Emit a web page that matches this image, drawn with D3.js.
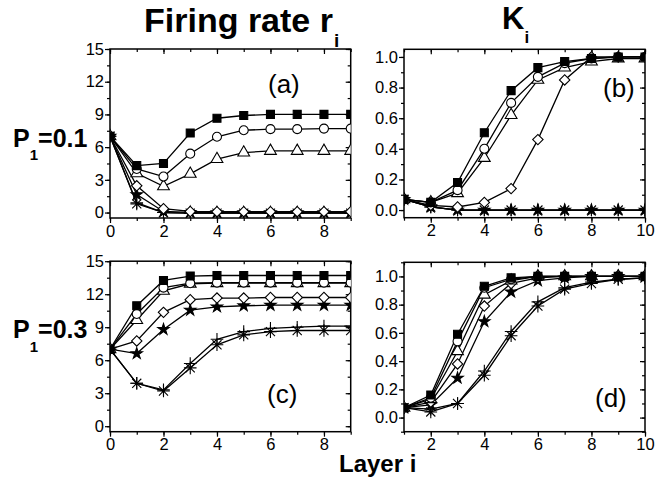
<!DOCTYPE html>
<html>
<head>
<meta charset="utf-8">
<script src="https://cdn.jsdelivr.net/npm/d3@7"></script>
<style>
  html, body { margin: 0; padding: 0; background: #fff; }
  svg { display: block; font-family: "Liberation Sans", Arial, sans-serif; }
</style>
</head>
<body>
<svg id="chart" width="669" height="479"></svg>
<script>
// ---- data ------------------------------------------------------------
// Seven curves per panel, identified by marker shape.
const seriesMarkers = ["square", "circle", "triangle", "diamond", "star", "plus", "asterisk"];

// Firing rate, layers 0..9
const layersRate = [0, 1, 2, 3, 4, 5, 6, 7, 8, 9];
// Consistency K, layers 1..10
const layersK = [1, 2, 3, 4, 5, 6, 7, 8, 9, 10];

// (a) firing rate, P1 = 0.1
const rateP01 = [
  [7, 4.3, 4.5, 7.3, 8.65, 8.9, 9.0, 9.0, 9.0, 9.0],
  [7, 4.0, 3.3, 5.4, 6.95, 7.55, 7.65, 7.65, 7.7, 7.7],
  [7, 3.6, 2.4, 3.55, 4.9, 5.5, 5.65, 5.65, 5.65, 5.65],
  [7, 2.45, 0.35, 0.1, 0.08, 0.08, 0.08, 0.08, 0.08, 0.08],
  [7, 1.65, 0.1, 0.02, 0.0, 0.0, 0.0, 0.0, 0.0, 0.0],
  [7, 0.9, 0.0, -0.05, -0.05, -0.05, -0.05, -0.05, -0.05, -0.05],
  [7, 0.8, 0.0, -0.05, -0.05, -0.05, -0.05, -0.05, -0.05, -0.05]
];

// (b) K, P1 = 0.1
const kP01 = [
  [0.07, 0.05, 0.18, 0.505, 0.78, 0.93, 0.97, 0.99, 1.0, 1.0],
  [0.07, 0.05, 0.13, 0.40, 0.70, 0.87, 0.96, 0.99, 1.0, 1.0],
  [0.07, 0.05, 0.11, 0.34, 0.62, 0.85, 0.93, 0.97, 0.99, 0.99],
  [0.07, 0.03, 0.02, 0.05, 0.14, 0.46, 0.85, 1.0, 1.0, 1.0],
  [0.07, 0.02, 0.0, 0.0, 0.0, 0.0, 0.0, 0.0, 0.0, 0.0],
  [0.07, 0.02, 0.0, 0.0, 0.0, 0.0, 0.0, 0.0, 0.0, 0.0],
  [0.07, 0.02, 0.0, 0.0, 0.0, 0.0, 0.0, 0.0, 0.0, 0.0]
];

// (c) firing rate, P1 = 0.3
const rateP03 = [
  [7, 10.95, 13.25, 13.65, 13.7, 13.7, 13.7, 13.7, 13.7, 13.7],
  [7, 10.2, 12.6, 13.0, 13.05, 13.05, 13.05, 13.05, 13.05, 13.05],
  [7, 9.65, 12.3, 12.95, 13.0, 13.0, 13.0, 13.0, 13.0, 13.0],
  [7, 7.75, 10.35, 11.5, 11.65, 11.65, 11.7, 11.7, 11.7, 11.7],
  [7, 6.6, 8.8, 10.55, 10.85, 10.95, 11.0, 11.0, 11.0, 11.0],
  [7, 3.9, 3.3, 5.7, 7.9, 8.6, 8.9, 9.0, 9.1, 9.1],
  [7, 3.9, 3.2, 5.3, 7.4, 8.3, 8.6, 8.7, 8.7, 8.7]
];

// (d) K, P1 = 0.3
const kP03 = [
  [0.07, 0.16, 0.59, 0.93, 0.99, 1.0, 1.0, 1.0, 1.0, 1.0],
  [0.07, 0.14, 0.54, 0.92, 0.98, 1.0, 1.0, 1.0, 1.0, 1.0],
  [0.07, 0.13, 0.47, 0.87, 0.97, 1.0, 1.0, 1.0, 1.0, 1.0],
  [0.07, 0.11, 0.38, 0.79, 0.95, 0.99, 1.0, 1.0, 1.0, 1.0],
  [0.07, 0.09, 0.28, 0.68, 0.89, 0.97, 0.99, 1.0, 1.0, 1.0],
  [0.07, 0.06, 0.10, 0.33, 0.61, 0.82, 0.92, 0.96, 0.98, 0.99],
  [0.07, 0.04, 0.10, 0.30, 0.58, 0.79, 0.91, 0.95, 0.98, 0.99]
];

// tick values
const rateTicks = [0, 3, 6, 9, 12, 15];
const kTicks = [0, 0.2, 0.4, 0.6, 0.8, 1.0];
const rateXTicks = [0, 2, 4, 6, 8];
const kXTicks = [2, 4, 6, 8, 10];

// ---- marker shapes ---------------------------------------------------
const plusSymbol = {
  draw(ctx, size) {
    const r = Math.sqrt(size) / 2;
    ctx.moveTo(-r, 0); ctx.lineTo(r, 0);
    ctx.moveTo(0, -r); ctx.lineTo(0, r);
  }
};
const asteriskSymbol = {
  draw(ctx, size) {
    const r = Math.sqrt(size) / 2;
    const d = r * 0.72;
    ctx.moveTo(-r, 0); ctx.lineTo(r, 0);
    ctx.moveTo(-d, -d); ctx.lineTo(d, d);
    ctx.moveTo(-d, d); ctx.lineTo(d, -d);
    ctx.moveTo(0, -r); ctx.lineTo(0, r);
  }
};
const markerStyle = {
  square:   { type: d3.symbolSquare,   size: 64,  fill: "#000", rot: 0 },
  circle:   { type: d3.symbolCircle,   size: 64,  fill: "#fff", rot: 0 },
  triangle: { type: d3.symbolTriangle, size: 60,  fill: "#fff", rot: 0 },
  diamond:  { type: d3.symbolSquare,   size: 54,  fill: "#fff", rot: 45 },
  star:     { type: d3.symbolStar,     size: 40,  fill: "#000", rot: 0 },
  plus:     { type: plusSymbol,        size: 160, fill: "none", rot: 0 },
  asterisk: { type: asteriskSymbol,    size: 160, fill: "none", rot: 0 }
};

// ---- layout ----------------------------------------------------------
const svg = d3.select("#chart");

const panels = [
  { id: "a", x0: 110, x1: 350.7, y0: 49,  y1: 218,   xDom: [0, 9],  yDom: [-0.5, 15],
    xs: layersRate, ys: rateP01, yTicks: rateTicks, yMinor: 1.5, xTicks: rateXTicks, yFmt: d3.format("d"),
    label: "(a)", lx: 268, ly: 92.5 },
  { id: "b", x0: 404, x1: 645,   y0: 49.3, y1: 217.7, xDom: [1, 10], yDom: [-0.05, 1.05],
    xs: layersK, ys: kP01, yTicks: kTicks, yMinor: 0.1, xTicks: kXTicks, yFmt: d3.format(".1f"),
    label: "(b)", lx: 603, ly: 96.5 },
  { id: "c", x0: 110, x1: 350.7, y0: 261.2, y1: 431.7, xDom: [0, 9],  yDom: [-0.5, 15],
    xs: layersRate, ys: rateP03, yTicks: rateTicks, yMinor: 1.5, xTicks: rateXTicks, yFmt: d3.format("d"),
    label: "(c)", lx: 267, ly: 403 },
  { id: "d", x0: 404, x1: 645,   y0: 262.3, y1: 431.7, xDom: [1, 10], yDom: [-0.1, 1.1],
    xs: layersK, ys: kP03, yTicks: kTicks, yMinor: 0.1, xTicks: kXTicks, yFmt: d3.format(".1f"),
    label: "(d)", lx: 595, ly: 406.5 }
];

function minorValues(dom, step) {
  const out = [];
  const start = Math.ceil(dom[0] / step - 1e-9);
  const end = Math.floor(dom[1] / step + 1e-9);
  for (let k = start; k <= end; k++) out.push(+(k * step).toFixed(6));
  return out;
}

panels.forEach(p => {
  const x = d3.scaleLinear().domain(p.xDom).range([p.x0, p.x1]);
  const y = d3.scaleLinear().domain(p.yDom).range([p.y1, p.y0]);
  const g = svg.append("g");

  const clipId = "clip-" + p.id;
  svg.append("clipPath").attr("id", clipId)
    .append("rect").attr("x", p.x0).attr("y", p.y0 - 8)
    .attr("width", p.x1 - p.x0).attr("height", p.y1 - p.y0 + 8);

  const xMinor = minorValues(p.xDom, 1);
  const yMinor = minorValues(p.yDom, p.yMinor);

  const styleAxis = sel => {
    sel.select(".domain").remove();
    sel.selectAll("line").attr("stroke", "#000").attr("stroke-width", 1.2);
    sel.selectAll("text").attr("font-size", 16.5).attr("fill", "#000")
      .attr("font-family", "'Liberation Sans', Arial, sans-serif");
  };

  // minor ticks, all four sides
  g.append("g").attr("transform", `translate(${p.x0},0)`)
    .call(d3.axisLeft(y).tickValues(yMinor).tickSize(3).tickFormat("")).call(styleAxis);
  g.append("g").attr("transform", `translate(${p.x1},0)`)
    .call(d3.axisLeft(y).tickValues(yMinor).tickSize(3).tickFormat("")).call(styleAxis);
  g.append("g").attr("transform", `translate(0,${p.y1})`)
    .call(d3.axisBottom(x).tickValues(xMinor).tickSize(3).tickFormat("")).call(styleAxis);
  g.append("g").attr("transform", `translate(0,${p.y0})`)
    .call(d3.axisBottom(x).tickValues(xMinor).tickSize(3).tickFormat("")).call(styleAxis);

  // major ticks with labels
  g.append("g").attr("transform", `translate(${p.x0},0)`)
    .call(d3.axisLeft(y).tickValues(p.yTicks).tickSize(5).tickPadding(1).tickFormat(p.yFmt)).call(styleAxis);
  g.append("g").attr("transform", `translate(${p.x1},0)`)
    .call(d3.axisLeft(y).tickValues(p.yTicks).tickSize(5).tickFormat("")).call(styleAxis);
  g.append("g").attr("transform", `translate(0,${p.y1})`)
    .call(d3.axisBottom(x).tickValues(p.xTicks).tickSize(5).tickPadding(2).tickFormat(d3.format("d"))).call(styleAxis);
  g.append("g").attr("transform", `translate(0,${p.y0})`)
    .call(d3.axisBottom(x).tickValues(p.xTicks).tickSize(5).tickFormat("")).call(styleAxis);

  // frame
  g.append("rect").attr("x", p.x0).attr("y", p.y0)
    .attr("width", p.x1 - p.x0).attr("height", p.y1 - p.y0)
    .attr("fill", "none").attr("stroke", "#000").attr("stroke-width", 1.5);

  // curves and markers
  const plot = g.append("g").attr("clip-path", `url(#${clipId})`);
  const line = d3.line().x((d, i) => x(p.xs[i])).y(d => y(d));
  const order = [6, 5, 4, 3, 2, 1, 0];
  order.forEach(si => {
    plot.append("path").attr("d", line(p.ys[si]))
      .attr("fill", "none").attr("stroke", "#000").attr("stroke-width", 1.3);
  });
  order.forEach(si => {
    const m = markerStyle[seriesMarkers[si]];
    const sym = d3.symbol().type(m.type).size(m.size);
    plot.selectAll(null).data(p.ys[si]).enter().append("path")
      .attr("d", sym)
      .attr("transform", (d, i) => `translate(${x(p.xs[i])},${y(d)}) rotate(${m.rot})`)
      .attr("fill", m.fill)
      .attr("stroke", "#000")
      .attr("stroke-width", 1.1);
  });

  // panel label
  g.append("text").attr("x", p.lx).attr("y", p.ly)
    .attr("font-size", 26).attr("fill", "#000").text(p.label);
});

// ---- titles (main text with a lowered subscript) ----------------------
function subText(xp, yp, size, main, sub, subSize, subDx, subDy, rest) {
  const t = svg.append("text").attr("x", xp).attr("y", yp)
    .attr("font-weight", "bold").attr("fill", "#000").attr("font-size", size);
  t.append("tspan").text(main);
  t.append("tspan").attr("dx", subDx).attr("dy", subDy).attr("font-size", subSize).text(sub);
  if (rest) t.append("tspan").attr("dy", -subDy).text(rest);
  return t;
}
subText(144, 32, 34, "Firing rate r", "i", 19, 1, 15);
subText(502, 28.5, 31, "K", "i", 17, 0, 14.5);
subText(13, 146.7, 25, "P", "1", 15, 0, 13.3, "=0.1");
subText(13, 338.3, 25, "P", "1", 15, 0, 13.7, "=0.3");

svg.append("text").attr("x", 339).attr("y", 471.5)
  .attr("font-size", 24).attr("font-weight", "bold").attr("fill", "#000").text("Layer i");
</script>
</body>
</html>
